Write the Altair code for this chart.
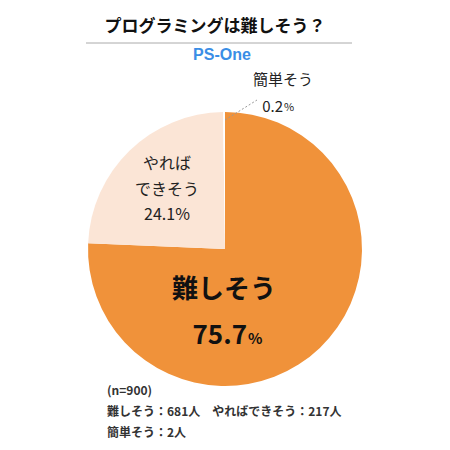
import altair as alt
import pandas as pd

categories = ["難しそう", "やればできそう", "簡単そう"]
counts = [681, 217, 2]
percents = [75.7, 24.1, 0.2]
colors = ["#F0923A", "#FBE5D6", "#FFFFFF"]

title_text = "プログラミングは難しそう？"
subtitle_text = "PS-One"
notes = ["(n=900)", "難しそう：681人　やればできそう：217人", "簡単そう：2人"]

JP = "Noto Sans CJK JP"

df = pd.DataFrame({"cat": categories, "n": counts, "pct": percents, "order": [0, 1, 2]})

# page offset is 8px, so chart coords = page coords - 8
pie = alt.Chart(df).mark_arc(radius=137, stroke=None).encode(
    theta=alt.Theta("n:Q", stack=True),
    order=alt.Order("order:Q"),
    color=alt.Color("cat:N", scale=alt.Scale(domain=categories, range=colors), legend=None),
    x=alt.value(217),
    y=alt.value(241),
)


def label(text, x, y, size, weight="normal", color="#222222", align="center", font=JP):
    return alt.Chart(pd.DataFrame({"t": [text]})).mark_text(
        font=font, fontSize=size, fontWeight=weight, color=color, align=align, baseline="middle"
    ).encode(text="t:N", x=alt.value(x), y=alt.value(y))


title = label(title_text, 207, 19, 17, "bold", "#111111")
rule = alt.Chart(pd.DataFrame({"a": [0]})).mark_rule(color="#AAAAAA", strokeWidth=1).encode(
    x=alt.value(78), x2=alt.value(344), y=alt.value(35)
)
subtitle = label(subtitle_text, 214, 47, 16, "bold", "#3A8EE6", font="Liberation Sans")

leader = alt.Chart(pd.DataFrame({"a": [0]})).mark_rule(
    color="#999999", strokeWidth=1, strokeDash=[2, 2]
).encode(x=alt.value(217), y=alt.value(112), x2=alt.value(249), y2=alt.value(92))

small_name = label(categories[2], 275, 72, 15)
small_pct = label(f"{percents[2]}", 275, 99, 15, align="right")
small_sign = label("%", 276, 100, 11, align="left")

mid_1 = label("やれば", 159, 156, 16)
mid_2 = label("できそう", 159, 182, 16)
mid_3 = label(f"{percents[1]}%", 159, 207, 16)

big_name = label(categories[0], 216, 282, 26, "bold", "#111111")
big_pct = label(f"{percents[0]}", 239, 328, 26, "bold", "#111111", align="right")
big_sign = label("%", 240, 331, 15, "bold", "#111111", align="left")

note_1 = label(notes[0], 99, 383, 12, "bold", "#333333", align="left")
note_2 = label(notes[1], 99, 404, 12, "bold", "#333333", align="left")
note_3 = label(notes[2], 99, 425, 12, "bold", "#333333", align="left")

chart = alt.layer(
    pie, title, rule, subtitle, leader, small_name, small_pct, small_sign,
    mid_1, mid_2, mid_3, big_name, big_pct, big_sign, note_1, note_2, note_3,
).properties(
    width=434, height=434, autosize=alt.AutoSizeParams(type="none"), padding=0
).configure_view(stroke=None)

chart.save("out.html", embed_options={"renderer": "svg", "actions": False})
